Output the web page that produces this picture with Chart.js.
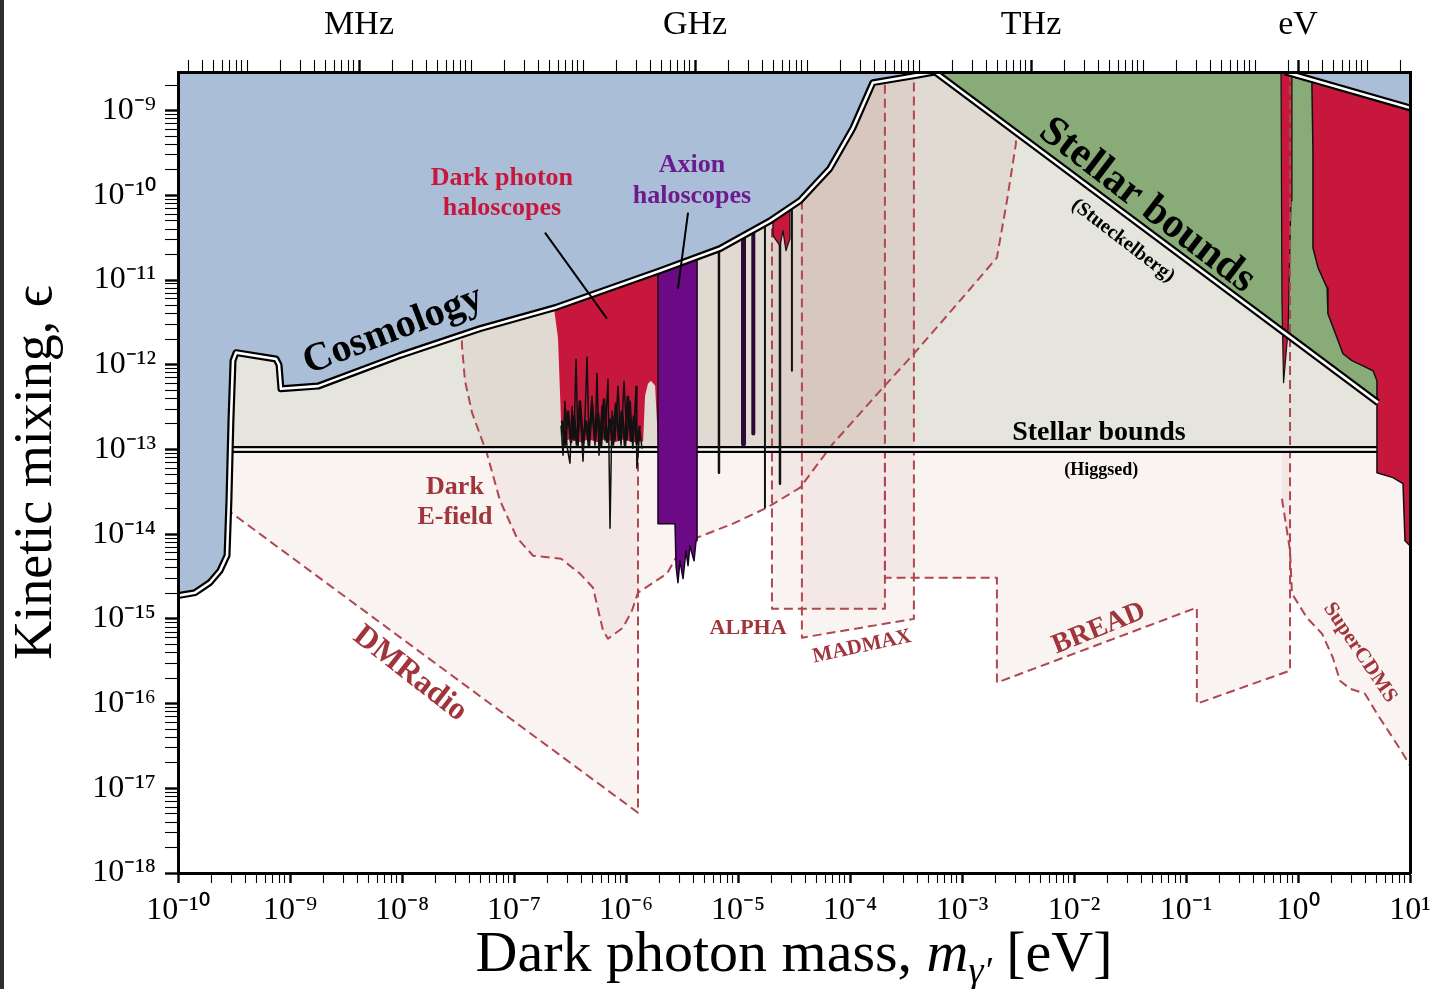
<!DOCTYPE html>
<html>
<head>
<meta charset="utf-8">
<title>Dark photon limits</title>
<script src="https://cdn.jsdelivr.net/npm/chart.js@4"></script>
<style>
  html, body { margin: 0; padding: 0; background: #fff; }
  #wrap { position: relative; width: 1439px; height: 989px; }
  #myChart { display: block; }
  #edge { position: absolute; left: 0; top: 0; width: 4px; height: 989px; background: #2f2f2f; }
</style>
</head>
<body>
<div id="wrap">
  <canvas id="myChart" width="1439" height="989"></canvas>
  <div id="edge"></div>
</div>
<script>
// axis ranges
const massMin = 1e-10;
const massMax = 10;
const epsMin = 1e-18;
const epsMax = 2.86e-9;
const eVPerHz = 4.1357e-15;

// top axis (frequency) labels
const freqTickHz = [1e6, 1e9, 1e12, 2.418e14];
const freqTickLabels = ['MHz', 'GHz', 'THz', 'eV'];

// all points are [mass in eV, kinetic mixing]
const cosmologyBound = [
  [1e-10, 1.88e-15], [1.42e-10, 2.04e-15], [1.93e-10, 2.69e-15], [2.37e-10, 3.7e-15],
  [2.74e-10, 5.6e-15], [2.85e-10, 2.5e-14], [2.97e-10, 2.19e-13], [3.1e-10, 1.12e-12],
  [3.3e-10, 1.39e-12], [7.5e-10, 1.17e-12], [7.98e-10, 1.0e-12], [8.3e-10, 5.2e-13],
  [1.78e-9, 5.6e-13], [9.6e-9, 1.29e-12], [4.97e-8, 2.67e-12], [2.32e-7, 4.72e-12],
  [2.01e-6, 1.29e-11], [6.9e-6, 2.35e-11], [1.93e-5, 5.0e-11], [3.58e-5, 8.65e-11],
  [6.6e-5, 2.07e-10], [1.06e-4, 6.2e-10], [1.6e-4, 2.14e-9], [3.8e-4, 2.59e-9],
  [5.74e-4, 2.86e-9]
];
const stueckelbergBound = [[5.74e-4, 2.86e-9], [5.18, 3.57e-13]];
const stueckelbergUpper = [[0.766, 2.86e-9], [10, 1.08e-9]];
const higgsedBound = [[3.0e-10, 1e-13], [5.18, 1e-13]];
const higgsedRegion = [[3.0e-10, 1e-13], [3.0e-10, 1e-8], [5.18, 1e-8], [5.18, 1e-13]];

const dpHaloscope = [
  [2.23e-7, 5.71e-12], [2.47e-7, 2.09e-12], [2.63e-7, 2.19e-13], [2.74e-7, 1.25e-13],
  [3.16e-7, 1.32e-13], [3.88e-7, 1.22e-13], [4.67e-7, 1.32e-13], [5.51e-7, 1.22e-13],
  [6.49e-7, 1.32e-13], [7.98e-7, 1.22e-13], [9.6e-7, 1.32e-13], [1.15e-6, 1.22e-13],
  [1.39e-6, 1.25e-13], [1.42e-6, 1.22e-13], [1.48e-6, 4.31e-13], [1.57e-6, 5.98e-13],
  [1.67e-6, 6.49e-13], [1.82e-6, 5.66e-13], [1.93e-6, 1.22e-13], [1.93e-6, 1.6e-11]
];
const dpNoise = [
  [2.63e-7, 1.91e-13], [2.74e-7, 8.45e-14], [2.85e-7, 3.77e-13], [2.97e-7, 1.11e-13],
  [3.16e-7, 6.79e-14], [3.30e-7, 3.29e-13], [3.43e-7, 1.27e-13], [3.58e-7, 1.18e-12],
  [3.73e-7, 1.05e-13], [3.88e-7, 3.77e-13], [4.13e-7, 7.18e-14], [4.31e-7, 2.51e-13],
  [4.49e-7, 1.25e-12], [4.67e-7, 1.27e-13], [4.97e-7, 4.31e-13], [5.29e-7, 1.11e-13],
  [5.51e-7, 8.07e-13], [5.74e-7, 8.45e-14], [6.11e-7, 3.29e-13], [6.49e-7, 1.27e-13],
  [6.91e-7, 6.86e-13], [7.20e-7, 1.16e-14], [7.50e-7, 2.87e-13], [7.98e-7, 1.27e-13],
  [8.48e-7, 5.66e-13], [9.03e-7, 1.11e-13], [9.60e-7, 6.49e-13], [1.02e-6, 1.27e-13],
  [1.09e-6, 3.77e-13], [1.15e-6, 1.02e-13], [1.23e-6, 5.66e-13], [1.25e-6, 5.93e-14],
  [1.33e-6, 1.67e-13], [1.39e-6, 1.02e-13]
];
const dpNoiseLow = [
  [2.68e-7, 2.19e-13], [2.85e-7, 1.11e-13], [3.03e-7, 2.87e-13], [3.23e-7, 1.20e-13],
  [3.43e-7, 2.51e-13], [3.65e-7, 1.11e-13], [3.88e-7, 3.77e-13], [4.13e-7, 1.17e-13],
  [4.39e-7, 2.19e-13], [4.67e-7, 1.08e-13], [4.97e-7, 3.29e-13], [5.29e-7, 1.27e-13],
  [5.62e-7, 2.72e-13], [5.98e-7, 1.05e-13], [6.36e-7, 3.98e-13], [6.77e-7, 1.20e-13],
  [7.20e-7, 2.31e-13], [7.65e-7, 1.11e-13], [8.14e-7, 3.57e-13], [8.66e-7, 1.27e-13],
  [9.21e-7, 2.87e-13], [9.80e-7, 1.08e-13], [1.04e-6, 4.31e-13], [1.11e-6, 1.24e-13],
  [1.18e-6, 2.51e-13], [1.25e-6, 1.14e-13], [1.33e-6, 1.91e-13]
];
const axionHaloscope = [
  [1.93e-6, 2.55e-11], [1.93e-6, 1.33e-14], [2.74e-6, 1.33e-14], [2.80e-6, 4.13e-15],
  [2.91e-6, 2.67e-15], [3.03e-6, 4.86e-15], [3.23e-6, 2.99e-15], [3.43e-6, 6.38e-15],
  [3.58e-6, 4.25e-15], [3.72e-6, 7.31e-15], [4.05e-6, 4.86e-15], [4.22e-6, 8.38e-15],
  [4.31e-6, 8.38e-15], [4.31e-6, 2.55e-11]
];
const axionLineA = [[6.76e-6, 5e-11], [6.76e-6, 5.32e-14]];
const axionBandB = [[1.12e-5, 5e-11], [1.12e-5, 1.17e-13]];
const axionBandC = [[1.37e-5, 5e-11], [1.37e-5, 1.54e-13]];
const axionLineD = [[1.74e-5, 6e-11], [1.74e-5, 2.06e-14]];
const axionLineE = [[2.37e-5, 8e-11], [2.37e-5, 3.95e-14]];
const axionLineF = [[3.03e-5, 1e-10], [3.03e-5, 8.5e-13]];
const dpPatch = [
  [2.05e-5, 8.65e-11], [2.05e-5, 3.34e-11], [2.37e-5, 2.55e-11], [2.52e-5, 3.83e-11],
  [2.68e-5, 2.22e-11], [2.91e-5, 3.08e-11], [2.91e-5, 8.65e-11]
];
const dpSpike = [
  [0.705, 3e-9], [0.719, 5.71e-12], [0.743, 6.15e-13], [0.815, 2.53e-12],
  [0.866, 8.65e-11], [0.883, 3e-9]
];
const dpRight = [
  [1.33, 2.1e-9], [1.36, 3.37e-10], [1.36, 2.41e-11], [1.51, 1.4e-11], [1.82, 8.1e-12],
  [1.85, 4.0e-12], [2.23, 2.09e-12], [2.52, 1.35e-12], [3.03, 1.12e-12], [3.8, 9.7e-13],
  [4.68, 8.5e-13], [5.07, 6.49e-13], [5.07, 5.32e-14], [7.05, 4.65e-14], [8.66, 3.95e-14],
  [9.02, 8.38e-15], [10, 7.31e-15], [10, 1.0e-9]
];

// projections
const dmRadio = [[2.97e-10, 1e-13], [2.97e-10, 1.8e-14], [1.28e-6, 5.15e-18], [1.28e-6, 1e-13]];
const darkEField = [
  [3.3e-8, 3.9e-9], [3.43e-8, 1.68e-12], [3.65e-8, 6.49e-13], [4.22e-8, 2.72e-13],
  [5.74e-8, 8.9e-14], [7.5e-8, 2.49e-14], [1.06e-7, 9.1e-15], [1.48e-7, 5.57e-15],
  [2.63e-7, 5.14e-15], [3.88e-7, 3.42e-15], [5.08e-7, 2.33e-15], [6.24e-7, 7.26e-16],
  [6.91e-7, 5.84e-16], [9.4e-7, 7.87e-16], [1.13e-6, 1.25e-15], [1.28e-6, 2.04e-15],
  [2.32e-6, 3.42e-15], [3.03e-6, 6.38e-15], [4.31e-6, 9.1e-15], [9.02e-6, 1.33e-14],
  [1.82e-5, 2.06e-14], [3.58e-5, 3.54e-14], [7.05e-5, 1.17e-13], [1.97e-4, 5.37e-13],
  [3.72e-4, 1.35e-12], [9.6e-4, 5.71e-12], [2.05e-3, 1.84e-11], [2.52e-3, 8.65e-11],
  [3.03e-3, 4.07e-10], [3.03e-3, 3.9e-9]
];
const alpha = [[2.01e-5, 3.9e-9], [2.01e-5, 1.32e-15], [2.05e-4, 1.32e-15], [2.05e-4, 3.9e-9]];
const madmax = [[3.72e-5, 3.9e-9], [3.72e-5, 6.0e-16], [3.72e-4, 1.0e-15], [3.72e-4, 3.9e-9]];
const bread = [
  [2.05e-4, 1e-13], [2.05e-4, 3.06e-15], [2.05e-3, 3.06e-15], [2.05e-3, 1.77e-16],
  [0.125, 1.36e-15], [0.125, 9.97e-17], [0.849, 2.45e-16], [0.849, 1e-13]
];
const breadEdge = [[0.849, 2.86e-9], [0.849, 1e-13]];
const superCDMS = [
  [0.719, 1e-13], [0.719, 2.62e-14], [0.849, 6.38e-15], [0.883, 1.99e-15], [1.2, 1.03e-15],
  [1.64, 6.68e-16], [2.05, 3.48e-16], [2.37, 1.86e-16], [2.91, 1.5e-16], [3.96, 1.31e-16],
  [5.07, 7.6e-17], [6.63, 4.42e-17], [8.66, 2.56e-17], [10, 1.85e-17], [10, 1e-13]
];

const pointerDP = [[1.89e-7, 3.63e-11], [6.76e-7, 3.5e-12]];
const pointerAxion = [[3.58e-6, 6.25e-11], [2.91e-6, 7.9e-12]];

// colours
const cosmoBlue = '#aabfd7';
const stellarGreen = '#88ab78';
const higgsGray = '#e5e5dd';
const dpRed = '#c8173c';
const axionPurple = '#6b0a84';
const projLine = '#b04750';
const projFill = 'rgba(170, 80, 75, 0.07)';
const projText = '#a0353c';

const labelText = [
  'Cosmology', 'Dark photon', 'haloscopes', 'Axion', 'haloscopes', 'Stellar bounds',
  '(Stueckelberg)', 'Stellar bounds', '(Higgsed)', 'Dark', 'E-field', 'DMRadio',
  'ALPHA', 'MADMAX', 'BREAD', 'SuperCDMS'
];
// where each label sits: mass, epsilon, font size, rotation, colour
const labelPlace = [
  [8.3e-9, 2.53e-12, 40, -21, '#000'],
  [7.8e-8, 1.57e-10, 26, 0, dpRed],
  [7.8e-8, 6.97e-11, 26, 0, dpRed],
  [3.88e-6, 2.24e-10, 26, 0, '#6c1a8c'],
  [3.88e-6, 9.66e-11, 26, 0, '#6c1a8c'],
  [4.49e-2, 7.55e-11, 42, 37.5, '#000'],
  [2.74e-2, 2.92e-11, 20, 37.5, '#000'],
  [1.67e-2, 1.58e-13, 28, 0, '#000'],
  [1.75e-2, 5.62e-14, 18, 0, '#000'],
  [2.97e-8, 3.54e-14, 26, 0, projText],
  [2.97e-8, 1.57e-14, 26, 0, projText],
  [1.18e-8, 2.25e-16, 32, 38, projText],
  [1.23e-5, 7.66e-16, 22, 0, projText],
  [1.28e-4, 4.7e-16, 21, -12, projText],
  [1.67e-2, 7.66e-16, 28, -22, projText],
  [3.58, 3.99e-16, 21, 56, projText]
];

const pts = arr => arr.map(([x, y]) => ({x: x, y: y}));
const layers = [];

function region(data, fill, border, width, dash) {
  layers.push({
    data: pts(data), showLine: true, fill: 'shape', backgroundColor: fill,
    borderColor: border || 'rgba(0,0,0,0)', borderWidth: width || 0,
    borderDash: dash || [], borderJoinStyle: 'round', pointRadius: 0
  });
}
function line(data, color, width, dash, join) {
  layers.push({
    data: pts(data), showLine: true, fill: false, borderColor: color,
    borderWidth: width, borderDash: dash || [], borderJoinStyle: join || 'round',
    pointRadius: 0
  });
}
function doubleLine(data) {
  line(data, '#000', 7);
  line(data, '#fff', 2.6);
}

// bottom to top
region(higgsedRegion, higgsGray);
const dash = [9, 5];
region(dmRadio, projFill, projLine, 2, dash);
region(darkEField, projFill, projLine, 2, dash);
region(alpha, projFill, projLine, 2, dash);
region(madmax, projFill, projLine, 2, dash);
region(bread, projFill, projLine, 2, dash);
region(superCDMS, projFill);
line(superCDMS.slice(1, -1), projLine, 2, dash);
region([...stueckelbergBound, [10, 3.57e-13], [10, 1e-8]], stellarGreen);
doubleLine(higgsedBound);
region(dpHaloscope, dpRed);
line(dpNoise, '#111', 1.5, [], 'bevel');
line(dpNoiseLow, '#111', 2.5, [], 'bevel');
region(axionHaloscope, axionPurple, '#1a0220', 1.5);
line(axionLineA, '#111', 2.5);
line(axionBandB, '#2b0b33', 5);
line(axionBandC, '#2b0b33', 4);
line(axionLineD, '#111', 2);
line(axionLineE, '#111', 2.5);
line(axionLineF, '#111', 2);
region(dpPatch, dpRed, '#111', 1.2);
region(dpSpike, dpRed, '#111', 1.2);
region(dpRight, dpRed, '#111', 1.5);
line(breadEdge, projLine, 2, dash);
region([[1e-10, 1e-8], ...cosmologyBound, [5.74e-4, 1e-8]], cosmoBlue);
region([...stueckelbergUpper, [10, 1e-8]], cosmoBlue);
doubleLine(cosmologyBound);
doubleLine(stueckelbergBound);
doubleLine(stueckelbergUpper);
line(pointerDP, '#000', 2);
line(pointerAxion, '#000', 2);
layers.forEach((d, i) => { d.order = layers.length - i; });

// tick helpers
const sup = {'-': '\u207B', '0': '\u2070', '1': '\u00B9', '2': '\u00B2', '3': '\u00B3',
  '4': '\u2074', '5': '\u2075', '6': '\u2076', '7': '\u2077', '8': '\u2078', '9': '\u2079'};
function powerLabel(v) {
  const e = Math.log10(v);
  const r = Math.round(e);
  if (Math.abs(e - r) > 1e-6) return '';
  return '10' + String(r).split('').map(c => sup[c]).join('');
}
function logTicks(lo, hi) {
  const out = [];
  for (let k = Math.floor(Math.log10(lo)); k <= Math.ceil(Math.log10(hi)); k++) {
    for (let s = 1; s <= 9; s++) {
      const v = Number(s + 'e' + k);
      if (v >= lo * 0.999999 && v <= hi * 1.000001) out.push({value: v});
    }
  }
  return out;
}
const decadeWidth = c => (c.tick && powerLabel(c.tick.value) ? 2.4 : 1.1);
const freqWidth = c => (c.tick && freqTickHz.includes(c.tick.value) ? 2.4 : 1.1);
const tickFont = {family: '"Liberation Serif", serif', size: 32};

const labelPlugin = {
  id: 'regionLabels',
  afterDatasetsDraw(chart) {
    const {ctx, scales} = chart;
    labelText.forEach((text, i) => {
      const [m, eps, size, angle, color] = labelPlace[i];
      ctx.save();
      ctx.translate(scales.x.getPixelForValue(m), scales.y.getPixelForValue(eps));
      ctx.rotate(angle * Math.PI / 180);
      ctx.font = 'bold ' + size + 'px "Liberation Serif", serif';
      ctx.fillStyle = color;
      ctx.textAlign = 'center';
      ctx.textBaseline = 'middle';
      ctx.fillText(text, 0, 0);
      ctx.restore();
    });
  }
};

const massTitle = {
  id: 'massTitle',
  afterDraw(chart) {
    const {ctx, chartArea} = chart;
    const parts = [
      {t: 'Dark photon mass, ', f: '58px "Liberation Serif", serif', dy: 0},
      {t: 'm', f: 'italic 58px "Liberation Serif", serif', dy: 0},
      {t: '\u03B3\u2032', f: 'italic 38px "Liberation Serif", serif', dy: 12},
      {t: ' [eV]', f: '58px "Liberation Serif", serif', dy: 0}
    ];
    ctx.save();
    let total = 0;
    parts.forEach(p => { ctx.font = p.f; p.w = ctx.measureText(p.t).width; total += p.w; });
    let x = (chartArea.left + chartArea.right) / 2 - total / 2;
    const y = chartArea.bottom + 98;
    ctx.fillStyle = '#000';
    ctx.textBaseline = 'alphabetic';
    parts.forEach(p => { ctx.font = p.f; ctx.fillText(p.t, x, y + p.dy); x += p.w; });
    ctx.restore();
  }
};

const ctx = document.getElementById('myChart').getContext('2d');
new Chart(ctx, {
  type: 'scatter',
  data: {datasets: layers},
  options: {
    responsive: false,
    animation: false,
    events: [],
    layout: {padding: 0},
    plugins: {legend: {display: false}, tooltip: {enabled: false}},
    elements: {point: {radius: 0}, line: {tension: 0}},
    scales: {
      x: {
        type: 'logarithmic', position: 'bottom', min: massMin, max: massMax,
        afterBuildTicks: s => { s.ticks = logTicks(massMin, massMax); },
        afterFit: s => { s.height = 116; },
        ticks: {callback: v => powerLabel(v), autoSkip: false, maxRotation: 0, minRotation: 0,
          padding: 8, color: '#000', font: tickFont},
        grid: {drawOnChartArea: false, tickLength: 10, tickColor: '#000', tickWidth: decadeWidth},
        border: {display: true, color: '#000', width: 3, z: 1}
      },
      x2: {
        type: 'logarithmic', axis: 'x', position: 'top', display: true,
        min: massMin / eVPerHz, max: massMax / eVPerHz,
        afterBuildTicks: s => {
          const t = logTicks(massMin / eVPerHz, massMax / eVPerHz);
          t.push({value: freqTickHz[3]});
          t.sort((a, b) => a.value - b.value);
          s.ticks = t;
        },
        afterFit: s => { s.height = 72; },
        ticks: {callback: v => { const i = freqTickHz.indexOf(v); return i >= 0 ? freqTickLabels[i] : ''; },
          autoSkip: false, maxRotation: 0, minRotation: 0, padding: 15, color: '#000',
          font: {family: '"Liberation Serif", serif', size: 34}},
        grid: {drawOnChartArea: false, tickLength: 12, tickColor: '#000', tickWidth: freqWidth},
        border: {display: true, color: '#000', width: 3, z: 1}
      },
      y: {
        type: 'logarithmic', position: 'left', min: epsMin, max: epsMax,
        afterBuildTicks: s => { s.ticks = logTicks(epsMin, epsMax); },
        afterFit: s => { s.width = 178; },
        ticks: {callback: v => powerLabel(v), autoSkip: false, padding: 9, color: '#000', font: tickFont},
        grid: {drawOnChartArea: false, tickLength: 13, tickColor: '#000', tickWidth: decadeWidth},
        border: {display: true, color: '#000', width: 3, z: 1},
        title: {display: true, text: 'Kinetic mixing, \u03F5', color: '#000',
          font: {family: '"Liberation Serif", serif', size: 54}, padding: {top: 4, bottom: 0}}
      },
      y2: {
        type: 'logarithmic', axis: 'y', position: 'right', display: true, min: epsMin, max: epsMax,
        afterFit: s => { s.width = 29; },
        ticks: {display: false},
        grid: {display: false, drawTicks: false},
        border: {display: true, color: '#000', width: 3, z: 1}
      }
    }
  },
  plugins: [labelPlugin, massTitle]
});
</script>
</body>
</html>
